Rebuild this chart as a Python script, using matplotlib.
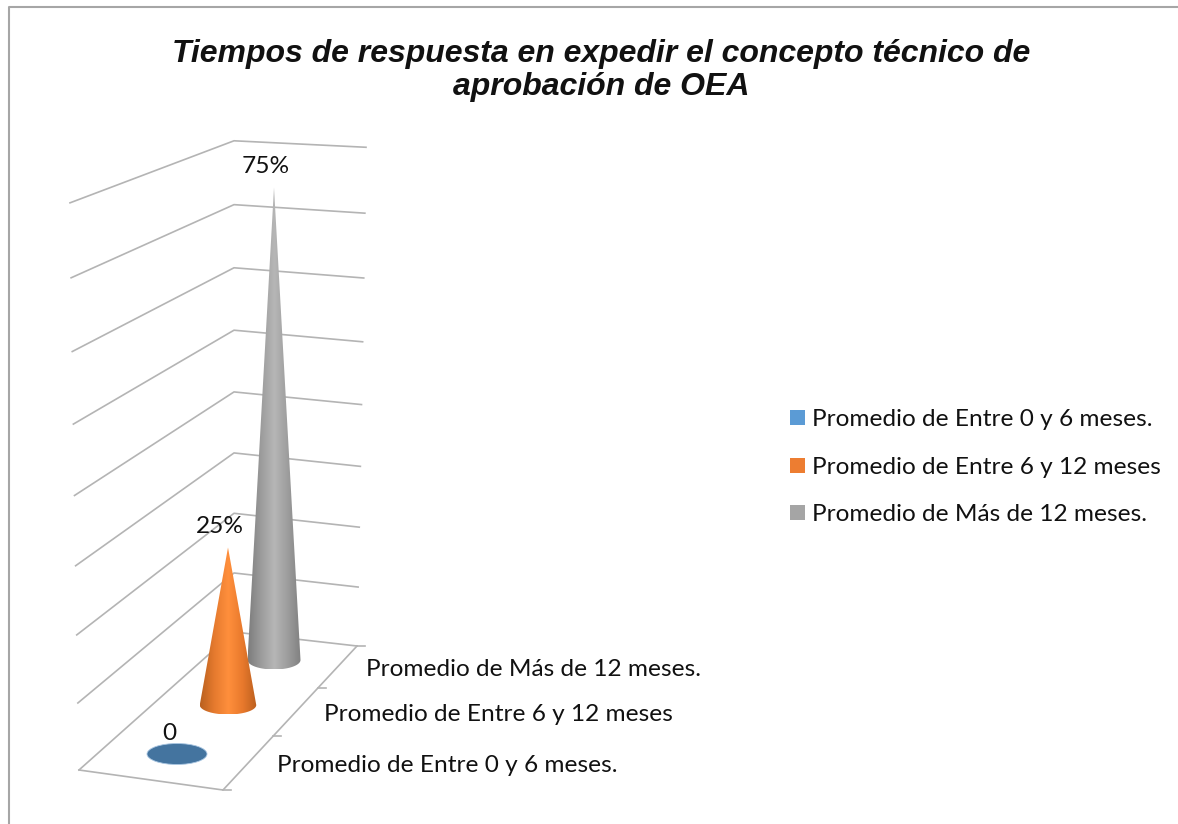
#!/usr/bin/env python

import numpy as np
import matplotlib
matplotlib.use('Agg')
import matplotlib.pyplot as plt
from matplotlib.colors import LinearSegmentedColormap
from matplotlib.patches import Ellipse, PathPatch, Rectangle
from matplotlib.path import Path

categories = ['Promedio de Entre 0 y 6 meses.',
              'Promedio de Entre 6 y 12 meses',
              'Promedio de Más de 12 meses.']
values = [0, 25, 75]
value_labels = ['0', '25%', '75%']
colors = ['#5B9BD5', '#ED7D31', '#A5A5A5']
grid_levels = [0, 10, 20, 30, 40, 50, 60, 70, 80]
title = 'Tiempos de respuesta en expedir el concepto técnico de\naprobación de OEA'

W, H = 1178, 824
PX_PER_PCT = 6.3
GRID = '#b4b4b4'
TXT = 17.6
# How far along the floor's right edge each depth tick sits
depth_ticks = [0, 0.375, 0.708, 1]


def wall_height(v, a, b):
    # Height above the floor, with a bit of perspective
    return a * v / (1 - b * v)


def front_pt(v):
    return 79 - 9 * v / 80, 770 - wall_height(v, 6.65, 0.000775)


def corner_pt(v):
    return 234, 632 - wall_height(v, 5.87, 0.00055)


def right_pt(v):
    return 357 + 9 * v / 80, 646 - wall_height(v, 5.85, 0.00077)


def edge_pt(f):
    # Point along the floor's right edge, f=0 at the front
    rx, ry = right_pt(0)
    return 223 + (rx - 223) * f, 790 + (ry - 790) * f


def base_pt(i):
    # Centre of the cone base for category i on the floor
    return 177 + 53.5 * i - 2.5 * i * i, 754 - 51 * i + 2 * i * i


def draw_cone(ax, i, value, cmap):
    x, y = base_pt(i)
    half = 30 - 1.75 * i
    tip = y - value * PX_PER_PCT
    ry = 9.5
    t = np.linspace(np.pi, 0, 40)
    arc = np.column_stack([x + half * np.cos(t), y + ry * np.sin(t)])
    verts = np.vstack([[[x, tip]], arc, [[x, tip]]])
    codes = [Path.MOVETO] + [Path.LINETO] * (len(verts) - 2) + [Path.CLOSEPOLY]
    clip = PathPatch(Path(verts, codes), fc='none', ec='none', transform=ax.transData)
    ax.add_patch(clip)
    grad = np.linspace(0, 1, 256).reshape(1, -1)
    im = ax.imshow(grad, cmap=cmap, extent=(x - half, x + half, y + ry, tip),
                   aspect='auto', zorder=3, interpolation='bilinear')
    im.set_clip_path(clip)


fig = plt.figure(figsize=(W / 100, H / 100), dpi=100)
ax = fig.add_axes([0, 0, 1, 1])
ax.set_xlim(0, W)
ax.set_ylim(H, 0)
ax.axis('off')

# Only the top and left chart borders are inside the picture
ax.plot([8.5, 8.5, W], [H, 6.5, 6.5], color='#a6a6a6', lw=1.5, zorder=1)

# Walls
for v in grid_levels:
    fx, fy = front_pt(v)
    cx, cy = corner_pt(v)
    rx, ry = right_pt(v)
    ax.plot([fx, cx, rx], [fy, cy, ry], color=GRID, lw=1.2, zorder=1)

# Floor front edges and depth axis ticks
fx, fy = front_pt(0)
rx, ry = right_pt(0)
ax.plot([fx, 223, rx], [fy, 790, ry], color=GRID, lw=1.2, zorder=1)
for f in depth_ticks:
    tx, ty = edge_pt(f)
    ax.plot([tx, tx + 8], [ty, ty], color=GRID, lw=1.2, zorder=1)

# Cones, back to front
cmaps = [None,
         LinearSegmentedColormap.from_list('o', ['#b9601f', '#e57a2e', '#ff8f3c', '#e8792c', '#bb5f1e']),
         LinearSegmentedColormap.from_list('g', ['#7d7d7d', '#9c9c9c', '#b6b6b6', '#9d9d9d', '#808080'])]
for i in [2, 1]:
    draw_cone(ax, i, values[i], cmaps[i])
bx, by = base_pt(0)
ax.add_patch(Ellipse((bx, by), 60, 21, fc='#44749f', ec='#a9c6e2', lw=0.6, zorder=3))
ax.set_xlim(0, W)
ax.set_ylim(H, 0)

# Data labels sit just above each cone tip
for i, lab in enumerate(value_labels):
    x, y = base_pt(i)
    tip = y - values[i] * PX_PER_PCT
    ax.text(x - 8, tip - 21, lab, fontsize=TXT, family='Lato', ha='center',
            va='center', color='#111111', zorder=4)

# Depth axis category labels
for i, lab in enumerate(categories):
    tx, ty = edge_pt((depth_ticks[i] + depth_ticks[i + 1]) / 2)
    ax.text(tx + 28.5, ty + 2, lab, fontsize=TXT, family='Lato', ha='left',
            va='center', color='#111111')

# Legend
for i, lab in enumerate(categories):
    ly = 417.5 + 47.5 * i
    ax.add_patch(Rectangle((790, ly - 7.5), 15, 15, fc=colors[i], ec='none'))
    ax.text(812, ly + 2, lab, fontsize=TXT, family='Lato', ha='left', va='center', color='#111111')

ax.text(601, 70.5, title, fontsize=23, family='Liberation Sans', weight='bold',
        style='italic', ha='center', va='center', color='#111111', linespacing=1.12)

fig.savefig('out.png', dpi=100)
